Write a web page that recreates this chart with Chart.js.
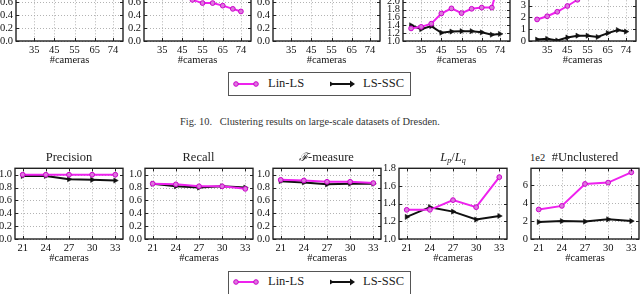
<!DOCTYPE html>
<html>
<head>
<meta charset="utf-8">
<script src="https://cdn.jsdelivr.net/npm/chart.js@4.4.1/dist/chart.umd.min.js"></script>
<style>
  body {
    margin: 0; width: 640px; height: 294px; overflow: hidden; background: #fff; position: relative;
    font-family: "Liberation Serif", "Times New Roman", serif; color: #222;
  }
  .cv { position: absolute; }
  .ttl { position: absolute; font-size: 12.5px; line-height: 14px; white-space: nowrap; transform: translateX(-50%); }
  .ttl i { font-style: italic; }
  .ttl sub { font-size: 8px; font-style: italic; vertical-align: -2px; line-height: 0; }
  .script { font-family: "DejaVu Serif", serif; font-style: italic; font-size: 11.5px; }
  .legend { position: absolute; left: 228px; width: 183px; height: 24px; border: 1px solid #555; box-sizing: border-box; }
  .legend span { position: absolute; top: 3px; font-size: 12.5px; line-height: 15px; }
  .caption { position: absolute; left: 180px; top: 116px; font-size: 10.4px; line-height: 12px; white-space: nowrap; color: #333; }
  .expo { position: absolute; left: 530px; top: 152px; font-size: 10.5px; line-height: 12px; }
</style>
</head>
<body>

<div class="caption">Fig. 10.&nbsp;&nbsp;&nbsp;Clustering results on large-scale datasets of Dresden.</div>

<div class="legend" style="top:72px">
  <svg width="181" height="22" style="position:absolute;left:0;top:0">
    <line x1="7" y1="11" x2="27" y2="11" stroke="#ee22ee" stroke-width="2"/>
    <circle cx="7" cy="11" r="2.3" fill="#dd77dd" stroke="#cc00cc" stroke-width="1"/>
    <circle cx="27" cy="11" r="2.3" fill="#dd77dd" stroke="#cc00cc" stroke-width="1"/>
    <line x1="103" y1="11" x2="123" y2="11" stroke="#111" stroke-width="2"/>
    <path d="M101,8.5 L105,11 L101,13.5 Z" fill="#111"/>
    <path d="M121,7.5 L126,11 L121,14.5 Z" fill="#111"/>
  </svg>
  <span style="left:39px">Lin-LS</span>
  <span style="left:134px">LS-SSC</span>
</div>

<div class="legend" style="top:271px">
  <svg width="181" height="22" style="position:absolute;left:0;top:0">
    <line x1="7" y1="10" x2="27" y2="10" stroke="#ee22ee" stroke-width="2"/>
    <circle cx="7" cy="10" r="2.3" fill="#dd77dd" stroke="#cc00cc" stroke-width="1"/>
    <circle cx="27" cy="10" r="2.3" fill="#dd77dd" stroke="#cc00cc" stroke-width="1"/>
    <line x1="103" y1="10" x2="123" y2="10" stroke="#111" stroke-width="2"/>
    <path d="M101,7.5 L105,10 L101,12.5 Z" fill="#111"/>
    <path d="M121,6.5 L126,10 L121,13.5 Z" fill="#111"/>
  </svg>
  <span style="left:39px;top:2px">Lin-LS</span>
  <span style="left:134px;top:2px">LS-SSC</span>
</div>

<div class="expo">1e2</div>

<script>
// --- top row (Fig. 10, only the lower part is visible) ---
const topCameras = [30, 35, 40, 45, 50, 55, 60, 65, 70, 74];
const topXTicks = [35, 45, 55, 65, 74];

const topPrecisionLin = [1.0, 1.0, 1.0, 1.0, 1.0, 0.99, 0.99, 0.99, 0.99, 0.99];
const topPrecisionSSC = [0.98, 0.97, 0.97, 0.96, 0.95, 0.95, 0.94, 0.94, 0.93, 0.93];
const topRecallLin = [0.90, 0.86, 0.80, 0.72, 0.64, 0.59, 0.59, 0.55, 0.50, 0.46];
const topRecallSSC = [0.90, 0.88, 0.87, 0.85, 0.84, 0.83, 0.82, 0.81, 0.80, 0.80];
const topFLin = [0.94, 0.92, 0.89, 0.85, 0.81, 0.78, 0.77, 0.75, 0.72, 0.70];
const topFSSC = [0.93, 0.92, 0.91, 0.90, 0.89, 0.88, 0.87, 0.86, 0.86, 0.85];
const topLpLin = [1.32, 1.36, 1.44, 1.70, 1.83, 1.71, 1.82, 1.85, 1.85, 2.60];
const topLpSSC = [1.40, 1.30, 1.38, 1.21, 1.24, 1.25, 1.25, 1.22, 1.16, 1.18];
const topUnclLin = [1.83, 2.10, 2.48, 2.97, 3.50, 3.90, 4.30, 4.80, 5.30, 5.80];
const topUnclSSC = [0.12, 0.18, 0.04, 0.30, 0.45, 0.45, 0.34, 0.67, 0.93, 0.80];

// --- bottom row ---
const cameras = [21, 24, 27, 30, 33];
const xTicks = [21, 24, 27, 30, 33];

const precisionLin = [1.0, 1.0, 1.0, 1.0, 1.0];
const precisionSSC = [0.98, 0.98, 0.93, 0.92, 0.91];
const recallLin = [0.86, 0.85, 0.82, 0.82, 0.78];
const recallSSC = [0.86, 0.82, 0.80, 0.82, 0.80];
const fLin = [0.92, 0.91, 0.89, 0.89, 0.87];
const fSSC = [0.90, 0.88, 0.85, 0.86, 0.86];
const lpLin = [1.33, 1.33, 1.44, 1.36, 1.70];
const lpSSC = [1.25, 1.36, 1.31, 1.22, 1.26];
const unclLin = [3.3, 3.7, 6.15, 6.3, 7.45];   // x 1e2
const unclSSC = [1.9, 2.0, 1.95, 2.2, 2.0];

// tick labels
const unitTicks = [0, 0.2, 0.4, 0.6, 0.8, 1.0];
const topLpTicks = [1.0, 1.2, 1.4, 1.6, 1.8, 2.0, 2.2, 2.4, 2.6, 2.8];
const topUnclTicks = [0, 1, 2, 3, 4, 5, 6];
const lpTicks = [1.0, 1.2, 1.4, 1.6, 1.8];
const unclTicks = [0, 2, 4, 6];

const panels = [
    { left: 16, top: -33, w: 107, h: 74, xr: [26, 79], xt: topXTicks, xs: topCameras, lin: topPrecisionLin, ssc: topPrecisionSSC, yr: [0, 1.1], yt: unitTicks, dec: 1 },
    { left: 144, top: -33, w: 107, h: 74, xr: [26, 79], xt: topXTicks, xs: topCameras, lin: topRecallLin, ssc: topRecallSSC, yr: [0, 1.1], yt: unitTicks, dec: 1 },
    { left: 272.5, top: -33, w: 107, h: 74, xr: [26, 79], xt: topXTicks, xs: topCameras, lin: topFLin, ssc: topFSSC, yr: [0, 1.1], yt: unitTicks, dec: 1 },
    { left: 403, top: -33, w: 107, h: 74, xr: [26, 79], xt: topXTicks, xs: topCameras, lin: topLpLin, ssc: topLpSSC, yr: [1.0, 2.8], yt: topLpTicks, dec: 1 },
    { left: 529, top: -33, w: 107, h: 74, xr: [26, 79], xt: topXTicks, xs: topCameras, lin: topUnclLin, ssc: topUnclSSC, yr: [0, 6], yt: topUnclTicks, dec: 0 },

    { left: 15, top: 165, w: 108, h: 74, xr: [20, 34], xt: xTicks, xs: cameras, lin: precisionLin, ssc: precisionSSC, yr: [0, 1.1], yt: unitTicks, dec: 1, title: 'Precision' },
    { left: 144.5, top: 165, w: 108, h: 74, xr: [20, 34], xt: xTicks, xs: cameras, lin: recallLin, ssc: recallSSC, yr: [0, 1.1], yt: unitTicks, dec: 1, title: 'Recall' },
    { left: 272.5, top: 165, w: 108, h: 74, xr: [20, 34], xt: xTicks, xs: cameras, lin: fLin, ssc: fSSC, yr: [0, 1.1], yt: unitTicks, dec: 1, title: '<span class="script">ℱ</span>-measure' },
    { left: 399, top: 165, w: 108, h: 74, xr: [20, 34], xt: xTicks, xs: cameras, lin: lpLin, ssc: lpSSC, yr: [1.0, 1.8], yt: lpTicks, dec: 1, title: '<i>L</i><sub>p</sub>/<i>L</i><sub>q</sub>' },
    { left: 531, top: 165, w: 108, h: 74, xr: [20, 34], xt: xTicks, xs: cameras, lin: unclLin, ssc: unclSSC, yr: [0, 7.9], yt: unclTicks, dec: 0, title: '#Unclustered' }
];

const tickFont = { family: "'Liberation Serif', 'Times New Roman', serif", size: 10.5 };
const PAD_L = 36, PAD_T = 6, PAD_R = 6, PAD_B = 30;

// dotted grid behind, box + inward ticks on top (matplotlib look)
const framePlugin = {
    id: 'frame',
    beforeDatasetsDraw(chart) {
        const { ctx, chartArea: a, scales: { x, y } } = chart;
        ctx.save();
        ctx.strokeStyle = '#a0a0a0';
        ctx.lineWidth = 0.8;
        ctx.setLineDash([1, 2]);
        ctx.beginPath();
        x.ticks.forEach(t => {
            const px = Math.round(x.getPixelForValue(t.value)) + 0.5;
            ctx.moveTo(px, a.top); ctx.lineTo(px, a.bottom);
        });
        y.ticks.forEach(t => {
            const py = Math.round(y.getPixelForValue(t.value)) + 0.5;
            ctx.moveTo(a.left, py); ctx.lineTo(a.right, py);
        });
        ctx.stroke();
        ctx.restore();
    },
    afterDatasetsDraw(chart) {
        const { ctx, chartArea: a, scales: { x, y } } = chart;
        ctx.save();
        ctx.strokeStyle = '#222';
        ctx.lineWidth = 1;
        ctx.beginPath();
        x.ticks.forEach(t => {
            const px = Math.round(x.getPixelForValue(t.value)) + 0.5;
            ctx.moveTo(px, a.bottom); ctx.lineTo(px, a.bottom - 3);
            ctx.moveTo(px, a.top); ctx.lineTo(px, a.top + 3);
        });
        y.ticks.forEach(t => {
            const py = Math.round(y.getPixelForValue(t.value)) + 0.5;
            ctx.moveTo(a.left, py); ctx.lineTo(a.left + 3, py);
            ctx.moveTo(a.right, py); ctx.lineTo(a.right - 3, py);
        });
        ctx.stroke();
        ctx.lineWidth = 1.4;
        ctx.strokeRect(a.left, a.top, a.right - a.left, a.bottom - a.top);
        ctx.restore();
    }
};

panels.forEach(p => {
    const cv = document.createElement('canvas');
    cv.className = 'cv';
    cv.width = p.w + PAD_L + PAD_R;
    cv.height = p.h + PAD_T + PAD_B;
    cv.style.left = (p.left - PAD_L) + 'px';
    cv.style.top = (p.top - PAD_T) + 'px';
    document.body.appendChild(cv);

    if (p.title) {
        const t = document.createElement('div');
        t.className = 'ttl';
        t.innerHTML = p.title;
        t.style.left = (p.left + p.w / 2) + 'px';
        t.style.top = '150px';
        document.body.appendChild(t);
    }

    new Chart(cv, {
        type: 'line',
        data: {
            datasets: [
                {
                    label: 'Lin-LS',
                    data: p.xs.map((c, i) => ({ x: c, y: p.lin[i] })),
                    borderColor: '#ee22ee',
                    borderWidth: 2,
                    pointStyle: 'circle',
                    pointRadius: 2.4,
                    pointBackgroundColor: '#dd77dd',
                    pointBorderColor: '#cc00cc',
                    pointBorderWidth: 1
                },
                {
                    label: 'LS-SSC',
                    data: p.xs.map((c, i) => ({ x: c, y: p.ssc[i] })),
                    borderColor: '#111',
                    borderWidth: 2,
                    pointStyle: 'triangle',
                    pointRotation: 90,
                    pointRadius: 3,
                    pointBackgroundColor: '#111',
                    pointBorderColor: '#111',
                    pointBorderWidth: 0.5
                }
            ]
        },
        options: {
            responsive: false,
            animation: false,
            events: [],
            layout: { padding: { left: 0, top: PAD_T, right: PAD_R, bottom: 4 } },
            plugins: { legend: { display: false }, tooltip: { enabled: false } },
            scales: {
                x: {
                    type: 'linear',
                    min: p.xr[0],
                    max: p.xr[1],
                    grid: { display: false, drawTicks: false },
                    border: { display: false },
                    afterBuildTicks: s => { s.ticks = p.xt.map(v => ({ value: v })); },
                    ticks: { font: tickFont, color: '#111', padding: 3, maxRotation: 0, autoSkip: false },
                    title: { display: true, text: '#cameras', font: tickFont, color: '#111', padding: 0 },
                    afterFit: s => { s.height = PAD_B - 4; }
                },
                y: {
                    min: p.yr[0],
                    max: p.yr[1],
                    grid: { display: false, drawTicks: false },
                    border: { display: false },
                    afterBuildTicks: s => { s.ticks = p.yt.map(v => ({ value: v })); },
                    ticks: {
                        font: tickFont, color: '#111', padding: 3, autoSkip: false,
                        callback: v => p.dec ? v.toFixed(p.dec) : String(v)
                    },
                    afterFit: s => { s.width = PAD_L; }
                }
            }
        },
        plugins: [framePlugin]
    });
});
</script>
</body>
</html>
